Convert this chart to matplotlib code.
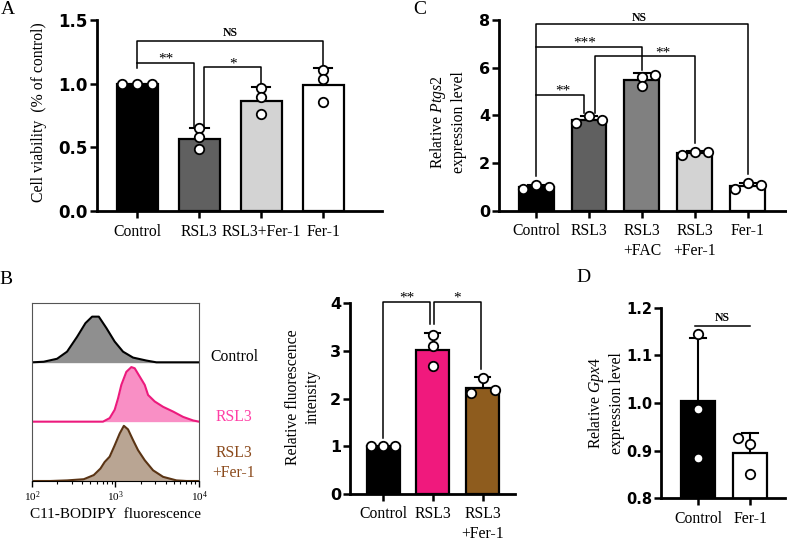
import numpy as np
import matplotlib
matplotlib.use('Agg')
import matplotlib.pyplot as plt
from matplotlib.ticker import LogLocator, NullFormatter

plt.rcParams['font.family'] = ['Liberation Serif', 'DejaVu Serif']
plt.rcParams['mathtext.fontset'] = 'custom'
plt.rcParams['mathtext.rm'] = 'Liberation Serif'
plt.rcParams['mathtext.it'] = 'Liberation Serif:italic'

# ---- panel A: cell viability ----
a_groups = ['Control', 'RSL3', 'RSL3+Fer-1', 'Fer-1']
a_means = [1.0, 0.565, 0.865, 0.99]
a_err = [0.0, 0.089, 0.106, 0.135]
a_points = [[1.0, 1.0, 1.0], [0.654, 0.584, 0.49], [0.964, 0.898, 0.76], [1.107, 1.04, 0.858]]

# ---- panel C: Ptgs2 expression ----
c_groups = ['Control', 'RSL3', 'RSL3\n+FAC', 'RSL3\n+Fer-1', 'Fer-1']
c_means = [1.0, 3.8, 5.48, 2.42, 1.03]
c_err = [0.08, 0.16, 0.28, 0.07, 0.12]
c_points = [[0.93, 1.08, 1.0], [3.66, 3.98, 3.80], [5.62, 5.69, 5.23], [2.34, 2.48, 2.45], [0.9, 1.15, 1.08]]

# ---- panel B: flow histograms (log10 intensity, relative count) ----
hist_names = ['Control', 'RSL3', 'RSL3\n+Fer-1']
ctrl_logx = [2.00, 2.14, 2.30, 2.42, 2.54, 2.64, 2.72, 2.80, 2.89, 2.99, 3.09, 3.21, 3.37, 3.49, 4.00]
ctrl_h = [0.00, 0.01, 0.06, 0.18, 0.43, 0.66, 0.77, 0.77, 0.58, 0.35, 0.18, 0.08, 0.03, 0.00, 0.00]
rsl3_logx = [2.00, 2.85, 2.93, 2.99, 3.03, 3.07, 3.13, 3.19, 3.23, 3.29, 3.35, 3.39, 3.47, 3.57, 3.69, 3.81, 3.93, 4.00]
rsl3_h = [0.00, 0.00, 0.06, 0.20, 0.39, 0.62, 0.84, 0.92, 0.90, 0.76, 0.62, 0.45, 0.34, 0.25, 0.17, 0.08, 0.02, 0.00]
fer_logx = [2.00, 2.22, 2.42, 2.62, 2.74, 2.82, 2.87, 2.93, 2.99, 3.05, 3.10, 3.15, 3.21, 3.27, 3.35, 3.45, 3.57, 3.73, 3.85, 4.00]
fer_h = [0.00, 0.00, 0.01, 0.03, 0.10, 0.21, 0.32, 0.41, 0.60, 0.80, 0.93, 0.87, 0.69, 0.52, 0.35, 0.18, 0.07, 0.01, 0.00, 0.00]

# ---- panel B: relative fluorescence ----
b_groups = ['Control', 'RSL3', 'RSL3\n+Fer-1']
b_means = [1.0, 3.02, 2.22]
b_err = [0.0, 0.36, 0.24]
b_points = [[1.0, 1.0, 1.0], [3.34, 3.10, 2.69], [2.43, 2.11, 2.18]]

# ---- panel D: Gpx4 expression ----
d_groups = ['Control', 'Fer-1']
d_means = [1.005, 0.896]
d_err = [0.132, 0.04]
d_points = [[1.145, 0.987, 0.885], [0.927, 0.913, 0.852]]

# layout: horizontal slot of each dot (-1 left, 0 centre, 1 right)
a_slots = [[-1, 0, 1], [0, 0, 0], [0, 0, 0], [0, 0, 0]]
c_slots = [[-1, 0, 1], [-1, 0, 1], [0, 1, 0], [-1, 0, 1], [-1, 0, 1]]
b_slots = [[-1, 0, 1], [0, 0, 0], [0, -1, 1]]
d_slots = [[0, 0, 0], [-1, 0, 0]]

W, H = 787, 541
fig = plt.figure(figsize=(W / 100, H / 100), dpi=100)


def box(l, t, r, b):
    return fig.add_axes([l / W, 1 - b / H, (r - l) / W, (b - t) / H])


def bar_panel(ax, groups, means, errs, points, slots, colors, ylim, yticks, fmt, xlim, tsize):
    x = np.arange(len(groups))
    ax.bar(x, means, width=0.66, color=colors, edgecolor='black', linewidth=1.6, zorder=2)
    for xi, m, e in zip(x, means, errs):
        if e > 0:
            ax.plot([xi, xi], [m, m + e], color='black', lw=1.5, zorder=3)
            ax.plot([xi - 0.15, xi + 0.15], [m + e, m + e], color='black', lw=1.5, zorder=3)
    for xi, pts, sl in zip(x, points, slots):
        ax.plot(xi + 0.24 * np.array(sl), pts, 'o', ms=6.8, mfc='white', mec='black',
                mew=1.3, zorder=4, clip_on=False)
    ax.set_xlim(*xlim)
    ax.set_ylim(*ylim)
    ax.set_yticks(yticks)
    ax.set_yticklabels([fmt.format(t) for t in yticks], family='DejaVu Sans',
                       weight='bold', fontsize=tsize)
    ax.set_xticks(x)
    ax.set_xticklabels(groups, fontsize=11.3, linespacing=1.3)
    for s in ['top', 'right']:
        ax.spines[s].set_visible(False)
    for s in ['left', 'bottom']:
        ax.spines[s].set_linewidth(2)
    ax.tick_params(axis='y', width=1.8, length=5, pad=1.5)
    ax.tick_params(axis='x', width=1.8, length=5, pad=4)


def bracket(ax, xl, xr, y, yl, yr, label, tx, ty):
    ax.plot([xl, xl, xr, xr], [yl, y, y, yr], color='black', lw=1.1, clip_on=False, zorder=1)
    if label == 'NS':
        ax.text(tx, ty, label, ha='center', va='center', fontsize=8.5,
                fontweight='bold', clip_on=False)
    else:
        ax.text(tx, ty, label, ha='center', va='center', fontsize=11, clip_on=False)


# A
axA = box(97, 20, 382, 211)
bar_panel(axA, a_groups, a_means, a_err, a_points, a_slots,
          ['black', '#606060', '#d3d3d3', 'white'], (0, 1.5), [0, 0.5, 1.0, 1.5], '{:.1f}',
          (-0.65, 3.95), 12)
axA.set_ylabel('Cell viability  (% of control)', fontsize=11.3)
axA.yaxis.set_label_coords(-0.175, 0.52)
bracket(axA, 0, 3, 1.337, 1.12, 1.133, 'NS', 1.5, 1.40)
bracket(axA, 0, 0.92, 1.16, 1.16, 0.66, '**', 0.46, 1.19)
bracket(axA, 1.08, 2, 1.128, 0.66, 0.976, '*', 1.54, 1.155)

# C
axC = box(499, 20, 787, 210.7)
bar_panel(axC, c_groups, c_means, c_err, c_points, c_slots,
          ['black', '#606060', '#808080', '#d3d3d3', 'white'], (0, 8), [0, 2, 4, 6, 8], '{:.0f}',
          (-0.70, 4.74), 11.5)
axC.set_ylabel('Relative $\\mathit{Ptgs2}$\nexpression level', fontsize=11.3, linespacing=1.25)
axC.yaxis.set_label_coords(-0.11, 0.465)
bracket(axC, 0, 4, 7.82, 1.47, 1.54, 'NS', 1.94, 8.08)
bracket(axC, 0, 2, 6.85, 6.85, 5.9, '***', 0.92, 7.05)
bracket(axC, 0, 0.91, 4.85, 4.85, 4.08, '**', 0.51, 5.0)
bracket(axC, 1.11, 3, 6.49, 4.08, 2.83, '**', 2.4, 6.6)

# B histograms
axH = box(32, 303, 199, 481)
axH.set_xscale('log')
hist_rows = [(ctrl_logx, ctrl_h, '#8f8f8f', 'black'),
             (rsl3_logx, rsl3_h, '#f98fc5', '#ec1a7d'),
             (fer_logx, fer_h, '#b9a593', '#5a3414')]
for i, (lx, hh, fc, ec) in enumerate(hist_rows):
    base = 2 - i
    xs = 10 ** np.array(lx)
    axH.fill_between(xs, base, base + np.array(hh), color=fc, lw=0)
    axH.plot(xs, base + np.array(hh), color=ec, lw=1.5)
axH.axhline(2, color='#999999', lw=1, zorder=0)
axH.set_xlim(1e2, 1e4)
axH.set_ylim(0, 3)
axH.set_yticks([])
axH.set_xticks([1e2, 1e3, 1e4])
axH.set_xticklabels(['$10^2$', '$10^3$', '$10^4$'], fontsize=8)
axH.xaxis.set_minor_locator(LogLocator(base=10, subs=np.arange(2, 10)))
axH.xaxis.set_minor_formatter(NullFormatter())
axH.tick_params(axis='x', which='major', length=4, width=1, pad=2)
axH.tick_params(axis='x', which='minor', length=2, width=0.8)
for s in axH.spines.values():
    s.set_linewidth(0.8)
    s.set_color('#555555')
axH.spines['bottom'].set_color('black')
axH.set_xlabel('C11-BODIPY  fluorescence', fontsize=11, labelpad=3)
hist_colors = ['black', '#ff3fa5', '#8b4a1c']
hist_label_y = [357, 417, 463]
for name, col, yy in zip(hist_names, hist_colors, hist_label_y):
    fig.text(234 / W, 1 - yy / H, name, color=col, fontsize=11.3, ha='center', va='center',
             linespacing=1.3)

# B bars
axB = box(350, 303.3, 515, 494)
bar_panel(axB, b_groups, b_means, b_err, b_points, b_slots,
          ['black', '#f0197d', '#8e5c1e'], (0, 4), [0, 1, 2, 3, 4], '{:.0f}',
          (-0.66, 2.64), 11.5)
axB.set_ylabel('Relative fluorescence\nintensity', fontsize=11.3, linespacing=1.3)
axB.yaxis.set_label_coords(-0.18, 0.51)
bracket(axB, 0, 0.94, 4.02, 1.17, 3.57, '**', 0.48, 4.12)
bracket(axB, 1.02, 1.96, 4.02, 3.57, 2.62, '*', 1.48, 4.12)

# D
axD = box(661, 307.7, 785, 498.3)
bar_panel(axD, d_groups, d_means, d_err, d_points, d_slots,
          ['black', 'white'], (0.8, 1.2), [0.8, 0.9, 1.0, 1.1, 1.2], '{:.1f}',
          (-0.71, 1.67), 10.5)
axD.set_ylabel('Relative $\\mathit{Gpx4}$\nexpression level', fontsize=11.3, linespacing=1.25)
axD.yaxis.set_label_coords(-0.29, 0.5)
bracket(axD, -0.06, 1.0, 1.162, 1.162, 1.162, 'NS', 0.46, 1.178)

for lab, px, py in [('A', 8, 10), ('B', 6, 279), ('C', 420, 10), ('D', 583, 277)]:
    fig.text(px / W, 1 - py / H, lab, fontsize=14, ha='center', va='center')

fig.savefig('out.png', dpi=100)
